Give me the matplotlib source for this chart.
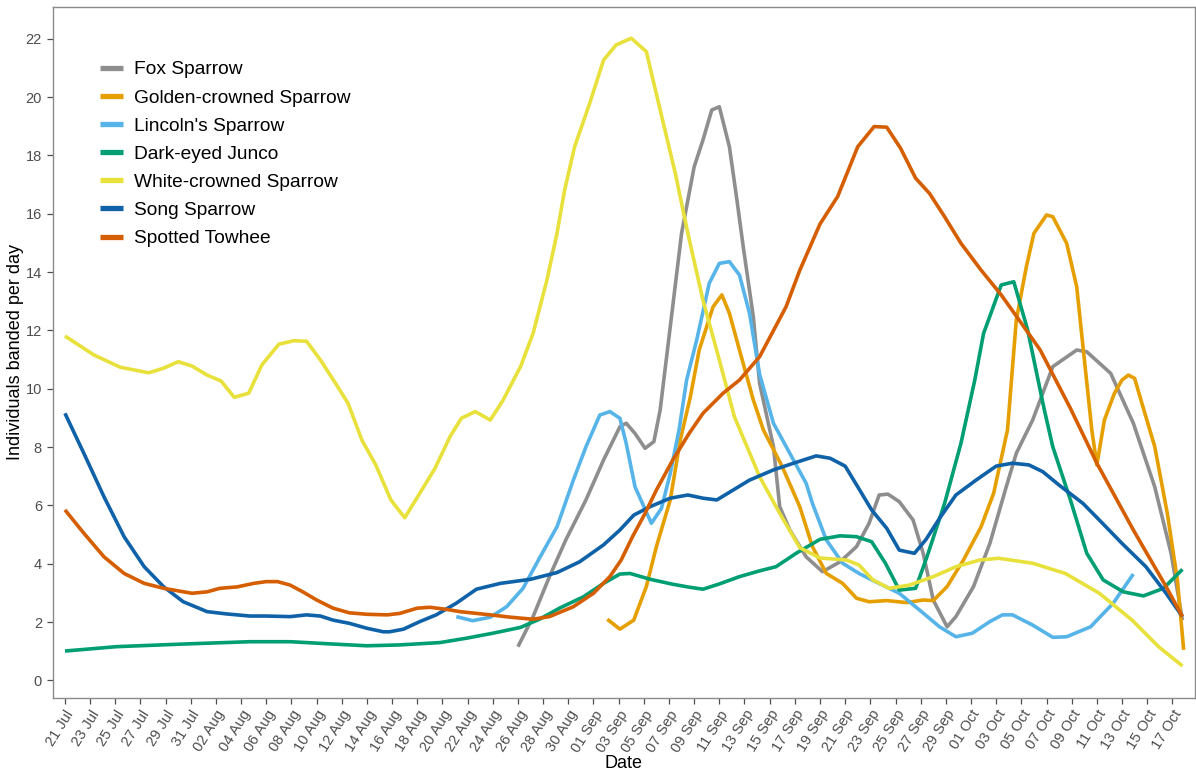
import datetime as dt
import matplotlib
matplotlib.use("Agg")
import matplotlib.pyplot as plt

plt.rcParams["font.family"] = ["Liberation Sans", "DejaVu Sans"]

# Season start: day 0 = 21 July
start = dt.date(2019, 7, 21)

species = [
    "Fox Sparrow",
    "Golden-crowned Sparrow",
    "Lincoln's Sparrow",
    "Dark-eyed Junco",
    "White-crowned Sparrow",
    "Song Sparrow",
    "Spotted Towhee",
]
colors = ["#8e8e8e", "#E69F00", "#56B4E9", "#009E73", "#E8E13C", "#0F62A8", "#D55E00"]

# Smoothed individuals banded per day (days since 21 Jul)
fox_days = [36.0, 37.2, 38.5, 39.8, 41.4, 42.8, 44.1, 44.6, 45.3, 46.1, 46.8, 47.3, 48.2, 49.0,
            49.5, 50.0, 50.7, 51.4, 52.0, 52.8, 53.4, 53.9, 54.7, 55.2, 56.3, 56.8, 57.6, 58.9,
            60.2, 61.6, 62.9, 63.9, 64.7, 65.4, 66.3, 67.4, 68.2, 69.0, 70.1, 70.8, 72.2, 73.5,
            74.8, 75.6, 76.9, 78.5, 80.4, 81.2, 83.1, 84.9, 86.6, 87.9, 88.8]
fox_vals = [1.16, 2.19, 3.56, 4.82, 6.19, 7.56, 8.70, 8.82, 8.47, 7.96, 8.19, 9.28, 12.48, 15.33,
            16.47, 17.61, 18.53, 19.56, 19.67, 18.30, 16.47, 14.87, 12.47, 10.19, 8.02, 5.96, 5.16, 4.24,
            3.73, 4.07, 4.59, 5.39, 6.36, 6.39, 6.13, 5.50, 4.36, 2.76, 1.84, 2.19, 3.22, 4.70,
            6.64, 7.79, 8.93, 10.76, 11.33, 11.27, 10.53, 8.82, 6.64, 4.36, 2.07]

golden_days = [43.1, 44.1, 45.2, 46.2, 47.0, 48.1, 48.9, 49.7, 50.4, 51.5, 52.2, 52.8, 53.6, 54.7,
               55.5, 57.0, 58.4, 59.4, 60.5, 61.8, 62.9, 63.9, 65.3, 66.9, 68.2, 69.0, 70.1, 71.4,
               72.8, 73.8, 74.9, 75.6, 76.4, 77.0, 78.0, 78.5, 79.6, 80.4, 80.9, 81.6, 82.0, 82.6,
               83.4, 84.0, 84.5, 85.0, 85.7, 86.6, 87.6, 88.4, 88.9]
golden_vals = [2.10, 1.76, 2.07, 3.22, 4.59, 6.19, 8.25, 9.73, 11.33, 12.81, 13.22, 12.59, 11.33, 9.62,
               8.59, 7.33, 5.95, 4.59, 3.67, 3.33, 2.82, 2.70, 2.74, 2.67, 2.76, 2.74, 3.22, 4.13,
               5.27, 6.42, 8.59, 12.36, 14.19, 15.33, 15.96, 15.90, 14.99, 13.50, 11.44, 8.59, 7.39, 8.93,
               9.85, 10.30, 10.47, 10.36, 9.33, 8.02, 5.73, 3.45, 1.05]

lincoln_days = [31.1, 32.4, 33.8, 35.1, 36.4, 37.7, 39.1, 40.4, 41.4, 42.5, 43.3, 44.1, 44.6, 45.3,
                46.6, 47.4, 48.1, 48.8, 49.4, 50.2, 51.2, 52.0, 52.8, 53.6, 54.4, 55.2, 56.3, 57.6,
                58.9, 59.4, 60.5, 61.8, 63.1, 64.4, 66.3, 67.9, 69.5, 70.8, 72.1, 73.5, 74.5, 75.3,
                76.9, 78.5, 79.6, 81.5, 83.3, 84.9]
lincoln_vals = [2.19, 2.05, 2.17, 2.53, 3.16, 4.19, 5.27, 6.87, 8.01, 9.10, 9.22, 8.99, 8.13, 6.64,
                5.39, 5.90, 7.10, 8.59, 10.30, 11.67, 13.62, 14.30, 14.36, 13.90, 12.59, 10.50, 8.82, 7.79,
                6.76, 6.07, 4.82, 4.02, 3.67, 3.39, 2.99, 2.42, 1.84, 1.50, 1.62, 2.02, 2.25, 2.25,
                1.90, 1.48, 1.50, 1.84, 2.65, 3.65]

junco_days = [0.0, 4.1, 9.4, 14.7, 17.9, 21.3, 24.0, 26.6, 29.8, 31.9, 34.0, 36.2, 37.7, 39.3,
              41.2, 42.8, 44.1, 44.9, 46.5, 48.3, 49.6, 50.7, 52.0, 53.6, 55.2, 56.5, 58.1, 60.0,
              61.6, 62.9, 64.1, 65.2, 66.3, 67.6, 68.5, 69.9, 71.2, 72.3, 73.0, 74.4, 75.4, 76.5,
              77.8, 78.5, 79.9, 81.2, 82.5, 84.1, 85.7, 87.3, 88.8]
junco_vals = [1.01, 1.16, 1.25, 1.33, 1.33, 1.25, 1.19, 1.22, 1.30, 1.45, 1.62, 1.82, 2.10, 2.48,
              2.87, 3.33, 3.65, 3.67, 3.47, 3.30, 3.20, 3.13, 3.31, 3.56, 3.76, 3.90, 4.36, 4.84,
              4.96, 4.93, 4.76, 4.02, 3.10, 3.16, 4.24, 6.07, 8.13, 10.30, 11.90, 13.56, 13.67, 12.02,
              9.33, 8.01, 6.19, 4.36, 3.45, 3.04, 2.90, 3.16, 3.81]

white_days = [0.0, 2.3, 4.4, 6.65, 7.8, 9.0, 10.1, 11.3, 12.4, 13.45, 14.6, 15.65, 17.0, 18.2,
              19.2, 20.3, 21.5, 22.5, 23.6, 24.7, 25.9, 27.0, 28.2, 29.4, 30.6, 31.5, 32.6, 33.8,
              34.8, 36.2, 37.2, 38.3, 39.1, 39.7, 40.5, 41.7, 42.8, 43.8, 45.0, 46.2, 47.3, 48.5,
              49.5, 50.7, 52.0, 53.2, 55.2, 56.8, 58.4, 60.0, 62.1, 63.1, 64.2, 65.5, 67.1, 69.0,
              70.8, 72.7, 74.2, 76.9, 79.5, 82.2, 84.8, 86.9, 88.8]
white_vals = [11.81, 11.16, 10.74, 10.55, 10.70, 10.93, 10.78, 10.47, 10.27, 9.71, 9.85, 10.82, 11.53, 11.65,
              11.63, 10.99, 10.19, 9.50, 8.24, 7.39, 6.19, 5.58, 6.42, 7.27, 8.36, 8.99, 9.22, 8.93,
              9.60, 10.76, 11.90, 13.73, 15.33, 16.80, 18.30, 19.79, 21.27, 21.79, 22.02, 21.56, 19.56, 17.39,
              15.33, 13.04, 10.99, 9.04, 6.99, 5.73, 4.55, 4.20, 4.13, 3.96, 3.45, 3.16, 3.27, 3.56,
              3.90, 4.13, 4.19, 4.02, 3.67, 2.99, 2.07, 1.16, 0.50]

song_days = [0.0, 1.5, 3.1, 4.7, 6.3, 7.85, 9.4, 11.3, 12.9, 14.7, 16.0, 17.9, 19.2, 20.3,
             21.3, 22.6, 24.0, 25.3, 25.8, 26.9, 28.2, 29.5, 31.1, 32.7, 34.6, 37.0, 39.1, 40.9,
             42.8, 44.1, 45.2, 46.5, 48.1, 49.5, 50.7, 51.8, 53.1, 54.4, 56.3, 57.9, 59.7, 60.8,
             62.0, 63.0, 64.1, 65.3, 66.3, 67.5, 68.4, 69.5, 70.8, 72.4, 74.0, 75.3, 76.6, 77.7,
             79.0, 80.9, 82.2, 84.0, 85.9, 87.5, 88.8]
song_vals = [9.16, 7.79, 6.30, 4.93, 3.90, 3.21, 2.70, 2.36, 2.28, 2.21, 2.21, 2.19, 2.25, 2.21,
             2.07, 1.96, 1.79, 1.67, 1.67, 1.76, 2.02, 2.25, 2.65, 3.13, 3.33, 3.47, 3.70, 4.07,
             4.65, 5.16, 5.67, 5.96, 6.25, 6.36, 6.25, 6.19, 6.53, 6.87, 7.22, 7.45, 7.70, 7.62,
             7.35, 6.64, 5.85, 5.22, 4.47, 4.36, 4.82, 5.56, 6.36, 6.87, 7.35, 7.45, 7.39, 7.16,
             6.70, 6.07, 5.50, 4.70, 3.90, 2.99, 2.19]

towhee_days = [0.0, 1.5, 3.1, 4.7, 6.3, 7.85, 8.9, 10.1, 11.3, 12.3, 13.7, 15.0, 16.0, 16.9,
               17.9, 18.9, 20.0, 21.3, 22.6, 24.0, 25.6, 26.6, 28.0, 29.0, 30.3, 31.4, 33.8, 35.4,
               37.2, 38.5, 40.4, 42.0, 43.3, 44.2, 45.1, 46.1, 47.0, 48.3, 49.6, 50.7, 52.3, 53.6,
               55.2, 57.3, 58.4, 60.0, 61.4, 63.0, 64.3, 65.3, 66.4, 67.6, 68.7, 69.9, 71.2, 72.8,
               74.4, 76.0, 77.5, 79.9, 82.0, 84.9, 87.5, 88.8]
towhee_vals = [5.85, 5.05, 4.24, 3.67, 3.33, 3.16, 3.08, 2.99, 3.04, 3.16, 3.21, 3.33, 3.39, 3.39,
               3.27, 3.04, 2.76, 2.48, 2.32, 2.27, 2.25, 2.30, 2.48, 2.51, 2.44, 2.36, 2.25, 2.17,
               2.10, 2.19, 2.53, 2.99, 3.56, 4.13, 4.93, 5.73, 6.53, 7.56, 8.47, 9.16, 9.85, 10.30,
               11.10, 12.81, 14.07, 15.65, 16.59, 18.30, 18.99, 18.97, 18.25, 17.22, 16.70, 15.90, 14.99, 14.07,
               13.22, 12.25, 11.33, 9.33, 7.45, 5.16, 3.22, 2.19]

series_days = [fox_days, golden_days, lincoln_days, junco_days, white_days, song_days, towhee_days]
series_vals = [fox_vals, golden_vals, lincoln_vals, junco_vals, white_vals, song_vals, towhee_vals]

tick_days = list(range(0, 89, 2))
tick_labels = [(start + dt.timedelta(days=d)).strftime("%d %b") for d in tick_days]

W, H = 1196, 774
fig = plt.figure(figsize=(W / 100, H / 100), dpi=100)
left, right, top, bottom = 53, 1195, 7, 698
ax = fig.add_axes([left / W, (H - bottom) / H, (right - left) / W, (bottom - top) / H])

for name, color, xs, ys in zip(species, colors, series_days, series_vals):
    ax.plot(xs, ys, color=color, lw=2.6, solid_joinstyle="round", solid_capstyle="butt", label=name)

ax.set_xlim(-0.95, 89.8)
ax.set_ylim(-0.6, 23.09)
ax.set_yticks(range(0, 23, 2))
ax.set_xticks(tick_days)
ax.set_xticklabels(tick_labels, rotation=58, ha="right", va="top", rotation_mode="anchor")

for sp in ax.spines.values():
    sp.set_color("#8a8a8a")
    sp.set_linewidth(1.0)
ax.tick_params(axis="both", colors="#4d4d4d", labelsize=10.5, length=4, width=0.9, direction="out")
ax.tick_params(axis="x", pad=3)
ax.tick_params(axis="y", pad=4)
for t in ax.get_xticklabels() + ax.get_yticklabels():
    t.set_color("#4d4d4d")

ax.set_xlabel("Date", fontsize=13, color="black")
ax.set_ylabel("Individuals banded per day", fontsize=13, color="black")
ax.xaxis.set_label_coords((624 - left) / (right - left), -(755 - bottom) / (bottom - top))
ax.yaxis.set_label_coords(-(left - 24) / (right - left), 0.5)

leg = ax.legend(loc="upper left", bbox_to_anchor=(100 / W, (H - 61) / H),
                bbox_transform=fig.transFigure, frameon=False, fontsize=13.8,
                handlelength=1.2, handletextpad=0.57, labelspacing=0.56,
                borderpad=0, borderaxespad=0)
for line in leg.get_lines():
    line.set_linewidth(3.8)

fig.savefig("out.png", dpi=100, facecolor="white")
